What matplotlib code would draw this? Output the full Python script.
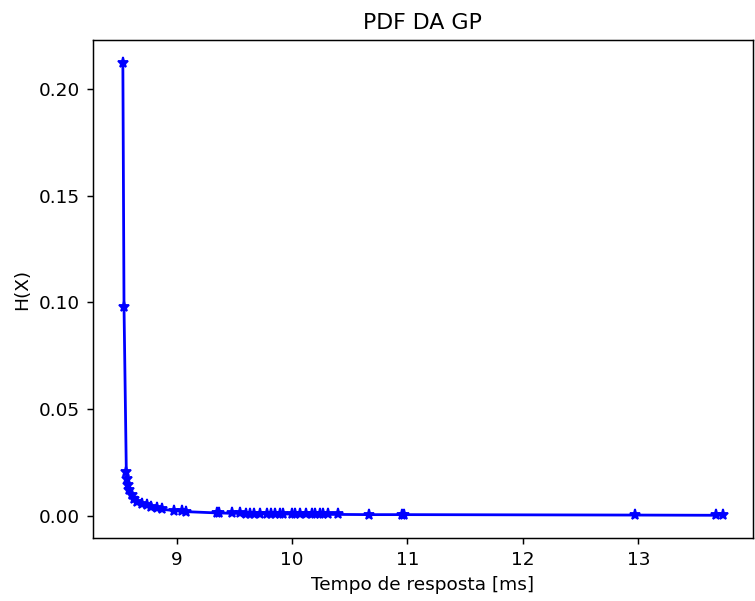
import matplotlib
matplotlib.use("Agg")
import matplotlib.pyplot as plt

# response time [ms] and estimated density
tempo = [8.535, 8.545, 8.565, 8.57, 8.58, 8.59, 8.61, 8.63, 8.66, 8.70,
         8.74, 8.78, 8.83, 8.87, 8.98, 9.05, 9.08, 9.35, 9.37, 9.48,
         9.55, 9.60, 9.64, 9.67, 9.72, 9.78, 9.82, 9.85, 9.90, 9.92,
         10.00, 10.03, 10.07, 10.12, 10.17, 10.20, 10.24, 10.27, 10.31, 10.40,
         10.67, 10.95, 10.97, 12.97, 13.67, 13.73]
hx = [0.2122, 0.0977, 0.0206, 0.017, 0.0145, 0.012, 0.0098, 0.008, 0.0065, 0.0055,
      0.0048, 0.0042, 0.0035, 0.003, 0.0024, 0.002, 0.0019, 0.0013, 0.0013, 0.0011,
      0.0011, 0.0010, 0.0010, 0.0010, 0.0009, 0.0009, 0.0009, 0.0009, 0.0008, 0.0008,
      0.0008, 0.0008, 0.0007, 0.0007, 0.0007, 0.0007, 0.0007, 0.0006, 0.0006, 0.0006,
      0.0005, 0.0005, 0.0005, 0.0003, 0.0002, 0.0002]

dpi = 133
fig = plt.figure(figsize=(755 / dpi, 601 / dpi), dpi=dpi)
fig.subplots_adjust(left=0.123, right=0.997, top=0.933, bottom=0.105)
ax = fig.add_subplot(111)

ax.plot(tempo, hx, '*-', color='blue')
ax.set_title("PDF DA GP")
ax.set_xlabel("Tempo de resposta [ms]")
ax.set_ylabel("H(X)")

fig.savefig("out.png", dpi=dpi)
